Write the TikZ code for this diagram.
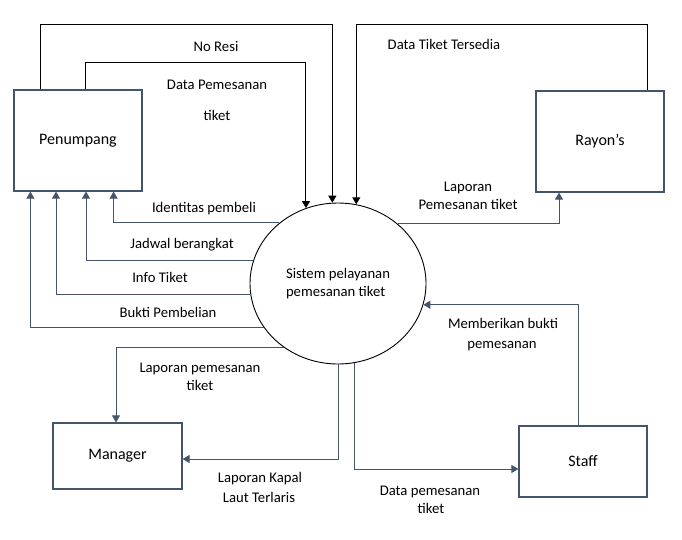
\documentclass[tikz,border=0pt]{standalone}
\usepackage{fontspec}
\setmainfont{Carlito}
\usetikzlibrary{arrows.meta,shapes.geometric}
\definecolor{slate}{HTML}{44546A}
\begin{document}
\begin{tikzpicture}[x=1pt,y=-1pt,
 box/.style={draw=slate,line width=1.2pt,inner sep=0pt,font=\fontsize{16}{19}\selectfont},
 lbl/.style={anchor=base,inner sep=0pt,font=\fontsize{14.7}{18}\selectfont},
 barr/.style={draw=black,line width=1pt,-{Triangle[length=7pt,width=8pt]}},
 sarr/.style={draw=slate,line width=1pt,-{Triangle[length=7pt,width=8pt]}},
]
\useasboundingbox (0,0) rectangle (682,539);
% entities
\node[box,minimum width=128pt,minimum height=101pt] (pen) at (78,140.5) {Penumpang};
\node[box,minimum width=128pt,minimum height=101pt] (ray) at (600,141.5) {Rayon’s};
\node[box,minimum width=129pt,minimum height=66pt] (man) at (117.5,456) {Manager};
\node[box,minimum width=128pt,minimum height=71pt] (stf) at (583,461.5) {Staff};
% process
\node[ellipse,draw=black,line width=0.9pt,minimum width=176pt,minimum height=161pt,inner sep=0pt,
      align=left,font=\fontsize{14.7}{18}\selectfont] (sys) at (338,283.5)
      {Sistem pelayanan\\pemesanan tiket};
% top flows
\draw[barr] ([xshift=-38pt]pen.north) -- ++(0,-65) -| (sys.94.3);
\draw[barr] ([xshift=7pt]pen.north) -- ++(0,-27) -| (sys.113.9);
\draw[barr] ([xshift=47pt]ray.north) -- ++(0,-66) -| (sys.77.8);
% flows to Penumpang
\draw[sarr] (sys.134.4) -| ([xshift=-29pt]pen.south east);
\draw[sarr] (sys.165.4) -| ([xshift=8pt]pen.south);
\draw[sarr] (sys.187.2) -| ([xshift=-22pt]pen.south);
\draw[sarr] (sys.211.6) -| ([xshift=17pt]pen.south west);
% flow to Rayon's
\draw[sarr] (sys.45.6) -| ([xshift=-41pt]ray.south);
% flows to Manager
\draw[sarr] (sys.230.2) -| ([xshift=-1.5pt]man.north);
\draw[sarr] (sys.south) |- ([yshift=-3pt]man.east);
% flows with Staff
\draw[sarr] (sys.282.9) |- ([yshift=-7.5pt]stf.west);
\draw[sarr] ([xshift=-5pt]stf.north) |- (sys.346.1);
% labels
\node[lbl] (l1) at (216,51) {No Resi};
\node[lbl] (l2a) at (217,89) {Data Pemesanan};
\node[lbl] (l2b) at (217,120) {tiket};
\node[lbl] (l3) at (444,49) {Data Tiket Tersedia};
\node[lbl] (l4a) at (468,191) {Laporan};
\node[lbl] (l4b) at (468,209) {Pemesanan tiket};
\node[lbl] (l5) at (204,212) {Identitas pembeli};
\node[lbl] (l6) at (182,248) {Jadwal berangkat};
\node[lbl] (l7) at (160,282) {Info Tiket};
\node[lbl] (l8) at (168,317) {Bukti Pembelian};
\node[lbl] (l9a) at (200,372) {Laporan pemesanan};
\node[lbl] (l9b) at (200,390) {tiket};
\node[lbl] (l10a) at (260,482) {Laporan Kapal};
\node[lbl] (l10b) at (259,502) {Laut Terlaris};
\node[lbl] (l11a) at (430,495) {Data pemesanan};
\node[lbl] (l11b) at (431,513) {tiket};
\node[lbl] (l12a) at (503,328) {Memberikan bukti};
\node[lbl] (l12b) at (502,348) {pemesanan};
\end{tikzpicture}
\end{document}
